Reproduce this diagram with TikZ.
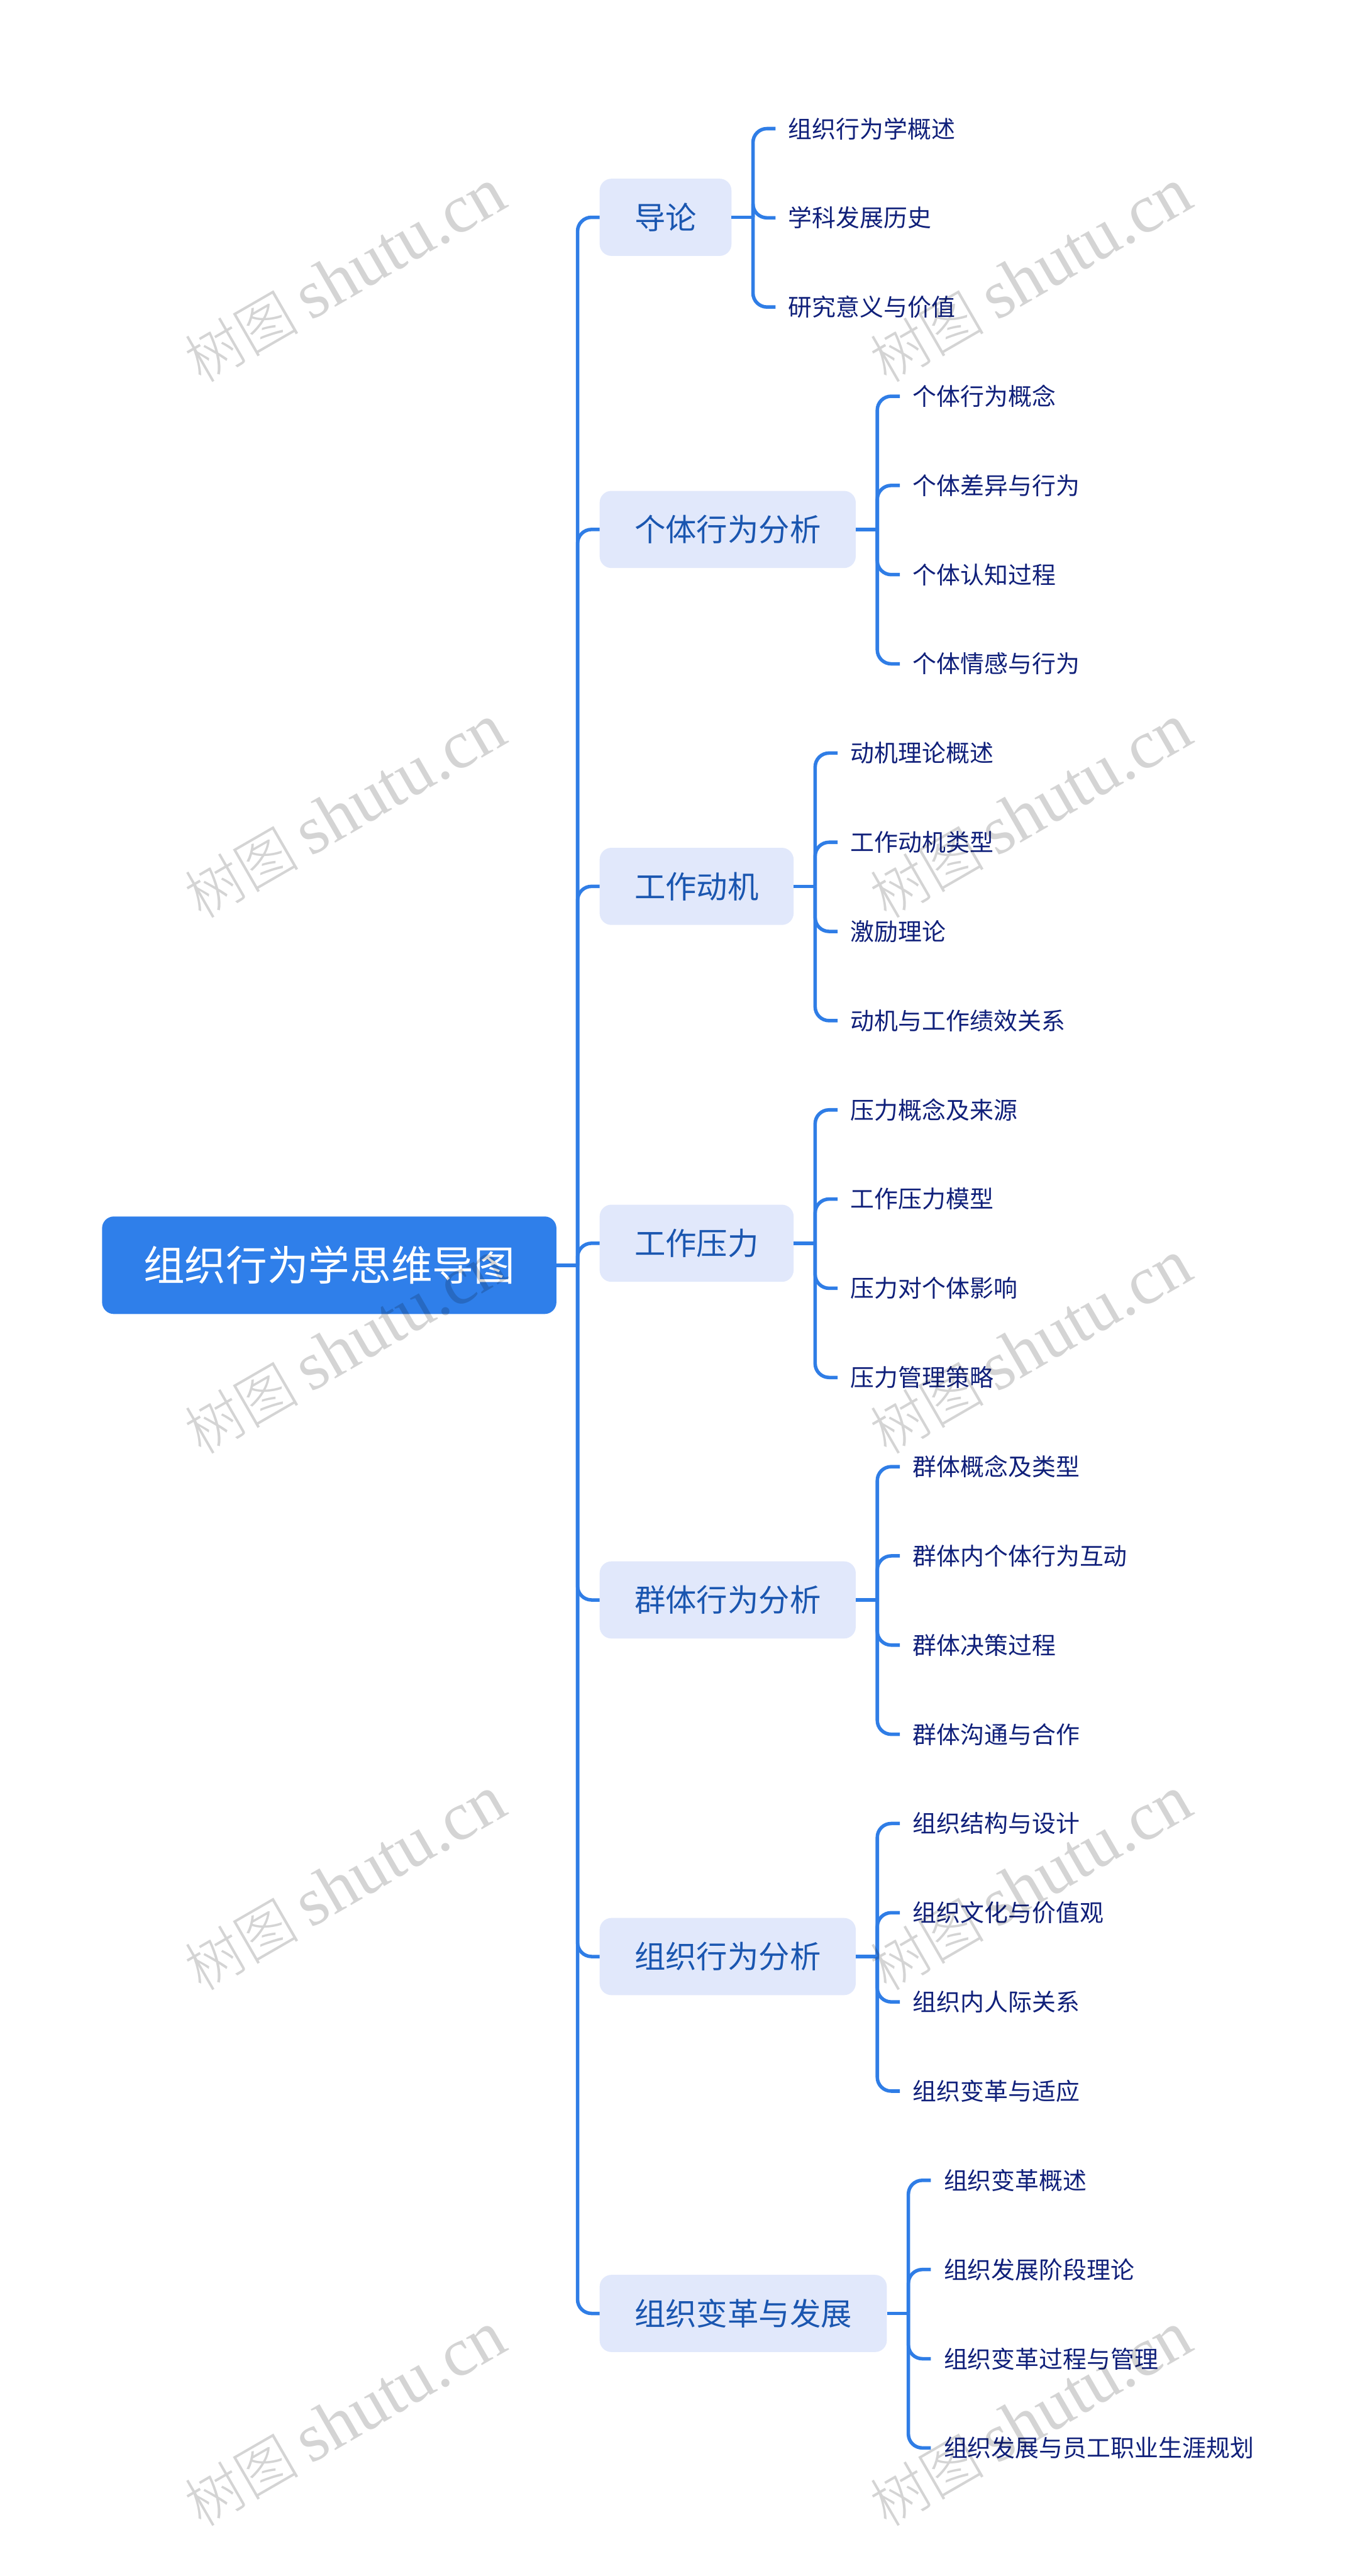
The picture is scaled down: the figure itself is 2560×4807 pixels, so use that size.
\documentclass[tikz,border=0pt]{standalone}
\usepackage{fontspec}
\setmainfont{Noto Sans CJK SC}
\newfontfamily\wmcjk{Noto Sans CJK SC Light}
\newfontfamily\wmlat{Liberation Serif}
\usetikzlibrary{calc}
\definecolor{linec}{HTML}{2F7DE6}
\definecolor{rootc}{HTML}{2F7FEA}
\definecolor{boxc}{HTML}{E1E8FB}
\definecolor{boxt}{HTML}{1A56B0}
\definecolor{leaft}{HTML}{10207A}
\tikzset{
  x=1pt,y=-1pt,
  rootnode/.style={fill=rootc,text=white,rounded corners=22pt,minimum width=848pt,minimum height=182pt,inner sep=0pt,font=\fontsize{77}{90}\selectfont},
  boxnode/.style={fill=boxc,text=boxt,rounded corners=22pt,minimum height=144pt,inner sep=0pt,inner xsep=65pt,anchor=west,font=\fontsize{58}{68}\selectfont},
  leafnode/.style={text=leaft,inner sep=0pt,inner xsep=24pt,anchor=west,font=\fontsize{44.5}{54}\selectfont},
  conn/.style={draw=linec,line width=6.5pt},
  elbow/.style={conn,rounded corners=26pt},
  wmark/.style={rotate=30,text=black,text opacity=.17,inner sep=0pt}
}
% #1 name, #2 box y, #3 label, #4 index of first leaf, #5 list of leaves
\newcommand{\grp}[5]{%
  \node[boxnode] (#1) at (1119,#2) {#3};
  \draw[elbow] (trunk) -- (trunk |- #1.west) -- (#1.west);
  \coordinate (#1j) at ($(#1.east)+(40,0)$);
  \draw[conn] (#1.east) -- (#1j);
  \foreach \lft [count=\idx from 0] in {#5}{
    \pgfmathsetmacro{\ly}{240+166.46*(#4+\idx)}
    \path let \p1=(#1.east) in node[leafnode] (#1l\idx) at (\x1+82,\ly) {\lft};
    \draw[elbow] (#1j) -- (#1j |- #1l\idx.west) -- (#1l\idx.west);
  }%
}
\begin{document}
\begin{tikzpicture}
\useasboundingbox (0,0) rectangle (2560,4807);
\fill[white] (0,0) rectangle (2560,4807);
\node[rootnode] (root) at (614.5,2361) {组织行为学思维导图};
\coordinate (trunk) at (1078,2361);
\draw[conn] (root.east) -- (trunk);
\grp{a}{405.5}{导论}{0}{组织行为学概述,学科发展历史,研究意义与价值}
\grp{b}{988}{个体行为分析}{3}{个体行为概念,个体差异与行为,个体认知过程,个体情感与行为}
\grp{c}{1654}{工作动机}{7}{动机理论概述,工作动机类型,激励理论,动机与工作绩效关系}
\grp{d}{2320}{工作压力}{11}{压力概念及来源,工作压力模型,压力对个体影响,压力管理策略}
\grp{e}{2985.6}{群体行为分析}{15}{群体概念及类型,群体内个体行为互动,群体决策过程,群体沟通与合作}
\grp{f}{3651}{组织行为分析}{19}{组织结构与设计,组织文化与价值观,组织内人际关系,组织变革与适应}
\grp{g}{4317}{组织变革与发展}{23}{组织变革概述,组织发展阶段理论,组织变革过程与管理,组织发展与员工职业生涯规划}
\foreach \wy [count=\rw] in {515,1515,2515,3515,4515}{
  \foreach \wx [count=\cl] in {644,1924}{
    \node[wmark] (w\rw\cl) at (\wx,\wy) {{\fontsize{107}{120}\selectfont\wmcjk 树图}\hspace{22pt}{\fontsize{128}{130}\selectfont\wmlat shutu.cn}};
  }
}
\end{tikzpicture}
\end{document}
